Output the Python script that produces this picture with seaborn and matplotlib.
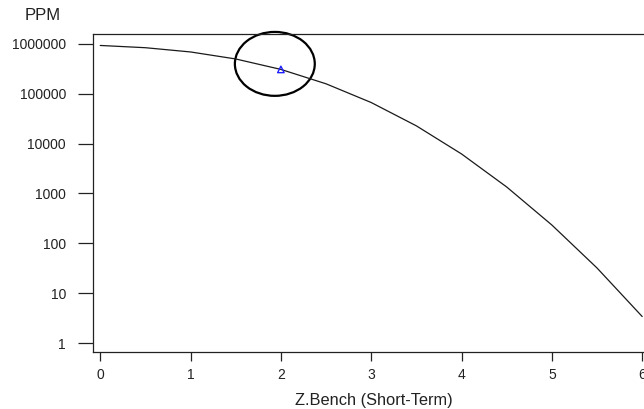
import matplotlib
matplotlib.use("Agg")
import matplotlib.pyplot as plt
import seaborn as sns
import pandas as pd
from matplotlib.patches import Ellipse
from matplotlib.ticker import FixedLocator, FixedFormatter

# values
z_bench = [0.0, 0.5, 1.0, 1.5, 2.0, 2.5, 3.0, 3.5, 4.0, 4.5, 5.0, 5.5, 6.0]
ppm = [933000, 841000, 691000, 500000, 308500, 158700, 66800, 22750, 6210, 1350, 233, 32, 3.4]
current_z = [2.0]
current_ppm = [308500]
y_ticks = [1, 10, 100, 1000, 10000, 100000, 1000000]
y_tick_labels = ["1", "10", "100", "1000", "10000", "100000", "1000000"]
x_ticks = [0, 1, 2, 3, 4, 5, 6]

df = pd.DataFrame({"Z": z_bench, "PPM": ppm})
pt = pd.DataFrame({"Z": current_z, "PPM": current_ppm})

sns.set_style("ticks")
plt.rcParams["font.family"] = ["Liberation Sans", "DejaVu Sans"]

fig = plt.figure(figsize=(6.44, 4.09), dpi=100)
ax = fig.add_axes([0.1444, 0.1394, 0.8556, 0.7775])

sns.lineplot(data=df, x="Z", y="PPM", color="#1a1a1a", linewidth=0.9, ax=ax)
sns.scatterplot(data=pt, x="Z", y="PPM", marker="^", s=22, facecolor="none",
                edgecolor="#2020ff", linewidth=1.0, ax=ax, zorder=5)

ax.set_yscale("log")
ax.set_xlim(-0.08, 6.02)
ax.set_ylim(10 ** -0.18, 10 ** 6.2)
ax.yaxis.set_major_locator(FixedLocator(y_ticks))
ax.yaxis.set_major_formatter(FixedFormatter(y_tick_labels))
ax.yaxis.set_minor_locator(FixedLocator([]))
ax.set_xticks(x_ticks)

for s in ["left", "bottom", "top"]:
    ax.spines[s].set_color("#222222")
    ax.spines[s].set_linewidth(0.9)
ax.spines["right"].set_visible(False)

ax.tick_params(axis="y", length=11, width=0.9, pad=8.5, labelsize=10,
               colors="#222222", direction="out")
ax.tick_params(axis="x", length=6.5, width=0.9, pad=5, labelsize=10,
               colors="#222222", direction="out")

ax.set_xlabel("Z.Bench (Short-Term)", fontsize=11.8, color="#222222")
ax.set_ylabel("")
ax.xaxis.set_label_coords(0.51, -0.13)
ax.text(-0.091, 1.057, "PPM", transform=ax.transAxes, fontsize=12,
        color="#222222", ha="center", va="center")

ax.add_patch(Ellipse((0.330, 0.906), 0.145, 0.201, transform=ax.transAxes,
                     fill=False, edgecolor="black", linewidth=1.6, clip_on=False))

fig.savefig("out.png", dpi=100)
